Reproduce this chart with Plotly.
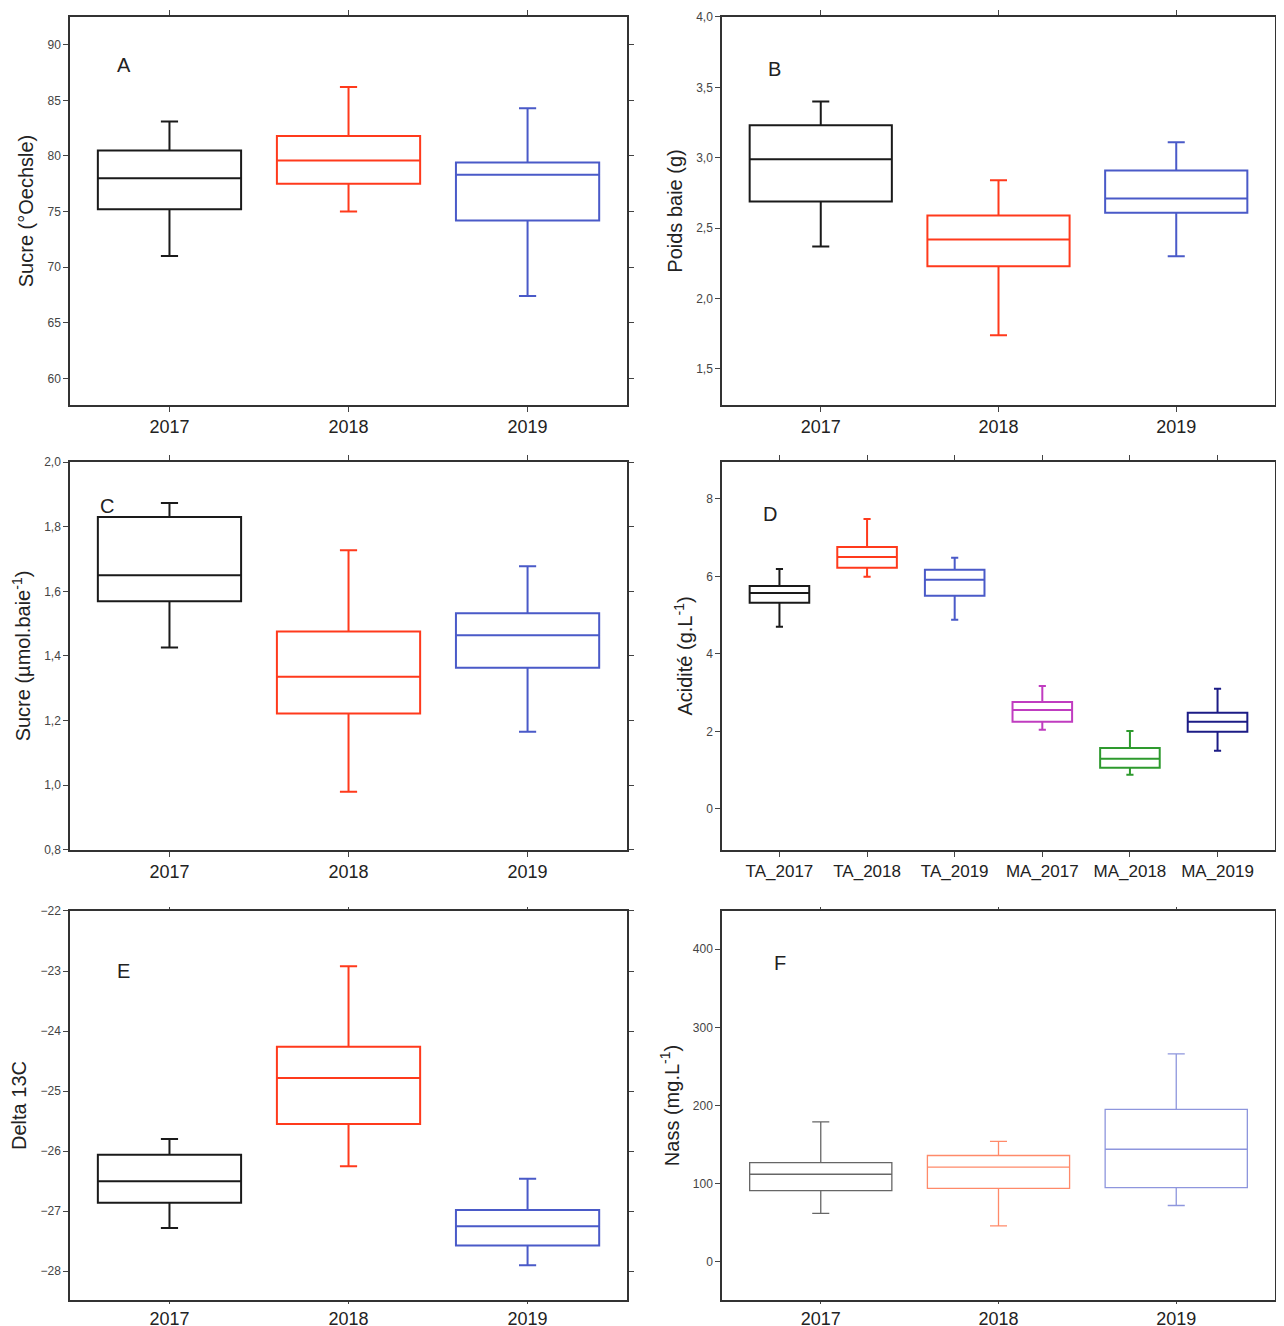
import plotly.graph_objects as go

years = ["2017", "2018", "2019"]
acid_cats = ["TA_2017", "TA_2018", "TA_2019", "MA_2017", "MA_2018", "MA_2019"]

# [lower, q1, median, q3, upper] per category
sucre_oe = [[71.0, 75.2, 78.0, 80.5, 83.1], [75.0, 77.5, 79.6, 81.8, 86.2], [67.4, 74.2, 78.3, 79.4, 84.3]]
poids = [[2.37, 2.69, 2.99, 3.23, 3.40], [1.74, 2.23, 2.42, 2.59, 2.84], [2.30, 2.61, 2.71, 2.91, 3.11]]
sucre_umol = [[1.426, 1.569, 1.65, 1.83, 1.873], [0.98, 1.222, 1.336, 1.476, 1.727], [1.166, 1.364, 1.464, 1.532, 1.678]]
acidite = [[4.7, 5.32, 5.57, 5.75, 6.19], [5.99, 6.22, 6.5, 6.76, 7.48], [4.88, 5.5, 5.91, 6.17, 6.48],
           [2.04, 2.25, 2.55, 2.76, 3.17], [0.88, 1.06, 1.29, 1.57, 2.01], [1.5, 1.99, 2.25, 2.48, 3.1]]
delta13c = [[-27.28, -26.86, -26.5, -26.06, -25.8], [-26.25, -25.55, -24.78, -24.26, -22.92], [-27.9, -27.57, -27.25, -26.98, -26.46]]
nass = [[62, 91, 112, 127, 179], [46, 94, 121, 136, 154], [72, 95, 144, 195, 266]]

col3 = ["#1a1a1a", "#ff3a1c", "#4a5ac8"]
col6 = ["#1a1a1a", "#ff3a1c", "#4a5ac8", "#c03cc0", "#2e9a2e", "#1c1c86"]
col3_light = ["#666666", "#ff8a6a", "#8e96dd"]

panels = [
    ("A", years, sucre_oe, col3, "Sucre (°Oechsle)", [57.6, 92.5], 5, ".0f", 0.8, 2),
    ("B", years, poids, col3, "Poids baie (g)", [1.244, 4.0], 0.5, ".1f", 0.8, 2),
    ("C", years, sucre_umol, col3, "Sucre (µmol.baie<sup>-1</sup>)", [0.8, 2.0], 0.2, ".1f", 0.8, 2),
    ("D", acid_cats, acidite, col6, "Acidité (g.L<sup>-1</sup>)", [-1.06, 8.95], 2, ".0f", 0.68, 2),
    ("E", years, delta13c, col3, "Delta 13C", [-28.48, -22.0], 1, ".0f", 0.8, 2),
    ("F", years, nass, col3_light, "Nass (mg.L<sup>-1</sup>)", [-49, 449], 100, ".0f", 0.8, 1.3),
]

xdoms = [[0.0489, 0.4882], [0.5631, 0.9992]]
ydoms = [[0.6988, 0.9932], [0.3612, 0.6555], [0.0197, 0.3149]]
letter_pos = [(0.08, 0.91), (0.08, 0.9), (0.05, 0.92), (0.07, 0.9), (0.08, 0.88), (0.09, 0.9)]

fig = go.Figure()
for i, (letter, cats, stats, cols, ytitle, yr, dt, fmt, bw, lw) in enumerate(panels):
    n = i + 1
    xa = "x" if n == 1 else "x%d" % n
    ya = "y" if n == 1 else "y%d" % n
    for c, s, col in zip(cats, stats, cols):
        fig.add_trace(go.Box(
            x=[c], lowerfence=[s[0]], q1=[s[1]], median=[s[2]], q3=[s[3]], upperfence=[s[4]],
            width=bw, whiskerwidth=0.12, fillcolor="rgba(0,0,0,0)",
            line=dict(color=col, width=lw), xaxis=xa, yaxis=ya, showlegend=False, boxpoints=False))
    r, cidx = divmod(i, 2)
    axkw = dict(showline=True, linecolor="#333", linewidth=1.5, mirror="ticks", ticks="outside",
                showgrid=False, zeroline=False, automargin=False)
    fig.layout["xaxis%d" % n if n > 1 else "xaxis"] = dict(
        domain=xdoms[cidx], anchor=ya, type="category", categoryorder="array", categoryarray=cats,
        tickfont=dict(size=18 if len(cats) == 3 else 17, color="#222"), ticklen=5 if r < 2 else 2, **axkw)
    fig.layout["yaxis%d" % n if n > 1 else "yaxis"] = dict(
        domain=ydoms[r], anchor=xa, range=yr, dtick=dt, tickformat=fmt,
        tickfont=dict(size=12, color="#444"), ticklen=5,
        title=dict(text=ytitle, font=dict(size=20, color="#222"), standoff=8), **axkw)
    fig.add_annotation(text=letter, x=letter_pos[i][0], y=letter_pos[i][1], xref="%s domain" % xa,
                       yref="%s domain" % ya, showarrow=False, font=dict(size=20, color="#222"))

fig.update_layout(width=1268, height=1318, margin=dict(l=0, r=0, t=0, b=0),
                  plot_bgcolor="white", paper_bgcolor="white",
                  font=dict(family="Liberation Sans, Arial"), separators=",.")
fig.write_html("out.html")
